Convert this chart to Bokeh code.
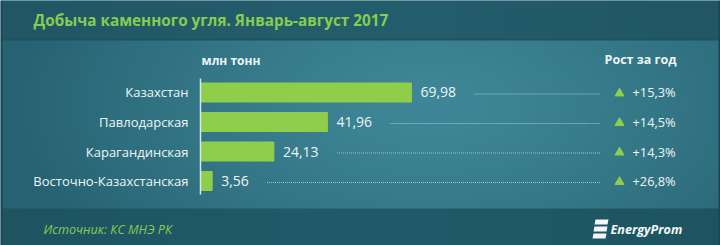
import numpy as np
from bokeh.plotting import figure
from bokeh.models import Range1d
from bokeh.core.properties import value
from bokeh.embed import file_html
from bokeh.resources import INLINE

# ---- data ----
categories = ["Казахстан", "Павлодарская", "Карагандинская", "Восточно-Казахстанская"]
production = [69.98, 41.96, 24.13, 3.56]
growth = [15.3, 14.5, 14.3, 26.8]
title_text = "Добыча каменного угля. Январь-август 2017"
unit_label = "млн тонн"
growth_label = "Рост за год"
source_text = "Источник: КС МНЭ РК"
brand = "EnergyProm"

W, H = 720, 245
FONT = value("Open Sans")
GREEN = "#8fce4b"
WHITE = "#eef5f6"

p = figure(width=W, height=H, x_range=Range1d(0, W), y_range=Range1d(0, H),
           x_axis_type=None, y_axis_type=None, toolbar_location=None,
           output_backend="svg", min_border=0)
p.outline_line_color = None
p.background_fill_color = "#235d6c"
p.border_fill_color = "#235d6c"
p.xgrid.visible = False
p.ygrid.visible = False
p.extra_x_ranges = {"val": Range1d(-67.0, 173.0)}
p.extra_y_ranges = {"cat": Range1d(-5.1864, 3.1186)}

# ---- background (decoration) ----
yy, xx = np.mgrid[0:H, 0:W].astype(float)
center = np.array([63, 135, 152], float)
edge = np.array([38, 98, 113], float)
t = np.sqrt(((xx - 430) / 430) ** 2 + ((yy - 105) / 230) ** 2)
t = np.clip(t, 0, 1) ** 1.3
rgb = center[None, None, :] * (1 - t[..., None]) + edge[None, None, :] * t[..., None]
header = np.array([36, 94, 109], float)
footer = np.array([33, 91, 105], float)
hx = 1 - 0.08 * np.abs(xx - 360) / 360
rgb[yy < 38] = (header[None, None, :] * hx[..., None])[yy < 38]
rgb[(yy >= 38) & (yy < 39.5)] = np.array([30, 82, 96])
rgb[yy >= 208] = (footer[None, None, :] * hx[..., None])[yy >= 208]
rgb[:, :2] = np.array([24, 70, 82])
rgb[:, -2:] = np.array([24, 70, 82])
rgb = np.clip(rgb, 0, 255).astype(np.uint32)
img = (255 << 24) | (rgb[..., 2] << 16) | (rgb[..., 1] << 8) | rgb[..., 0]
img = img[::-1].astype(np.uint32)
p.image_rgba(image=[img], x=0, y=0, dw=W, dh=H)

def Y(top):
    return H - top

# ---- title & headers ----
p.text(x=[33], y=[Y(19)], text=[title_text], text_font=FONT, text_font_size="15.3px",
       text_font_style="bold", text_color="#86cc52", text_baseline="middle")
p.text(x=[201], y=[Y(60)], text=[unit_label], text_font=FONT, text_font_size="12px",
       text_font_style="bold", text_color=WHITE, text_baseline="middle")
p.text(x=[676], y=[Y(59)], text=[growth_label], text_font=FONT, text_font_size="12.5px",
       text_font_style="bold", text_color=WHITE, text_baseline="middle", text_align="right")

# ---- bars ----
ypos = [-i for i in range(len(categories))]
p.hbar(y=ypos, left=0, right=production, height=0.645, color=GREEN,
       x_range_name="val", y_range_name="cat")

# axis line
p.segment(x0=[200], x1=[200], y0=[Y(78)], y1=[Y(194)], line_color="#d8e8ea", line_width=1.5)

# category labels
p.text(x=[188] * len(categories), y=ypos, text=categories, y_range_name="cat",
       text_font=FONT, text_font_size="13px", text_color=WHITE,
       text_align="right", text_baseline="middle")

# value labels
vals_txt = [f"{v:.2f}".replace(".", ",") for v in production]
p.text(x=production, y=ypos, text=vals_txt, x_range_name="val", y_range_name="cat",
       x_offset=9, text_font=FONT, text_font_size="14px", text_color=WHITE,
       text_baseline="middle")

# dotted leader lines
starts = [v + (22 + len(s) * 8.2) / 3.0 for v, s in zip(production, vals_txt)]
p.segment(x0=starts, x1=[133.0] * len(starts), y0=[y - 0.05 for y in ypos],
          y1=[y - 0.05 for y in ypos], x_range_name="val", y_range_name="cat",
          line_color="#a6ccd6", line_width=1, line_dash="1 1", line_alpha=0.95)

# growth markers and labels
p.scatter(x=[619] * len(growth), y=[y - 0.03 for y in ypos], marker="triangle", size=9,
          color=GREEN, y_range_name="cat")
g_txt = [f"+{g:.1f}%".replace(".", ",") for g in growth]
p.text(x=[632] * len(growth), y=ypos, text=g_txt, y_range_name="cat",
       text_font=FONT, text_font_size="12.8px", text_color=WHITE, text_baseline="middle")

# ---- footer ----
p.text(x=[43], y=[Y(229)], text=[source_text], text_font=FONT, text_font_size="12.6px",
       text_font_style="italic", text_color="#86cc52", text_baseline="middle")
p.text(x=[610], y=[Y(229)], text=[brand], text_font=FONT, text_font_size="12.6px",
       text_font_style="bold italic", text_color="#f2f6f7", text_baseline="middle")
# logo stripes
lx, ly = 593, 219
xs = [[lx + 2, lx + 15, lx + 14, lx + 1], [lx + 1, lx + 14, lx + 13, lx],
      [lx, lx + 13, lx + 12, lx - 1]]
ys = [[Y(ly), Y(ly), Y(ly + 5), Y(ly + 5)], [Y(ly + 7), Y(ly + 7), Y(ly + 12), Y(ly + 12)],
      [Y(ly + 14), Y(ly + 14), Y(ly + 19), Y(ly + 19)]]
p.patches(xs=xs, ys=ys, color="#f2f6f7", line_width=0)

open("out.html", "w").write(file_html(p, INLINE))
